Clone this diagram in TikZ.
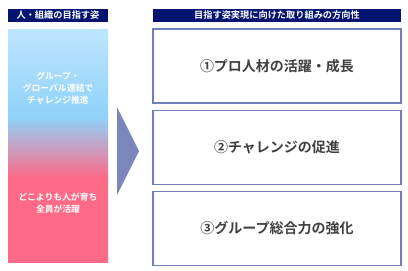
\documentclass[tikz,border=0pt]{standalone}
\usepackage{fontspec}
\newfontfamily\jpfont{Noto Sans CJK JP}[BoldFont={Noto Sans CJK JP Bold}]
\usepackage{tikz}
\usetikzlibrary{positioning}
\definecolor{headnavy}{RGB}{4, 20, 112}
\definecolor{framegray}{RGB}{112, 126, 186}
\definecolor{arrowgray}{RGB}{123, 135, 188}
\definecolor{textgray}{RGB}{64, 64, 64}
\definecolor{barpink}{RGB}{255, 106, 134}
\definecolor{barblue}{RGB}{143, 210, 250}
\definecolor{barsky}{RGB}{190, 229, 255}
\pgfdeclareverticalshading{barshade}{100bp}{color(0bp)=(barpink); color(25bp)=(barpink);
    color(43bp)=(barpink); color(56bp)=(barblue); color(75bp)=(barsky); color(100bp)=(barsky)}

\begin{document}
\begin{tikzpicture}[
    x=1pt, y=-1pt,
    font=\jpfont\bfseries,
    node distance=6pt,
    head/.style={fill=headnavy, text=white, inner sep=0pt, minimum height=13pt,
        font=\jpfont\bfseries\fontsize{9.2}{10}\selectfont},
    goal/.style={draw=framegray, line width=1.1pt, minimum width=248pt, minimum height=74pt,
        inner sep=0pt, text=textgray, font=\jpfont\bfseries\fontsize{14}{16}\selectfont},
    bartext/.style={text=white, align=center, inner sep=0pt,
        font=\jpfont\bfseries\fontsize{8.8}{12}\selectfont}
]
\useasboundingbox (0,0) rectangle (408,271);
\node[head, minimum width=100pt] (lhead) at (58,15) {人・組織の目指す姿};
\node[head, minimum width=248pt] (rhead) at (277,15.5) {目指す姿実現に向けた取り組みの方向性};
\node[shading=barshade, minimum width=100pt, minimum height=233pt, inner sep=0pt] (bar) at (58,145.5) {};
\node[bartext] (vision1) at (58,88) {グループ・\\グローバル連結で\\チャレンジ推進};
\node[bartext] (vision2) at (58,203.5) {どこよりも人が育ち\\全員が活躍};
\fill[arrowgray] (117,107) -- (139,151) -- (117,195) -- cycle;
\node[goal] (goal1) at (277,66) {①プロ人材の活躍・成長};
\node[goal, below=of goal1] (goal2) {②チャレンジの促進};
\node[goal, below=of goal2] (goal3) {③グループ総合力の強化};
\end{tikzpicture}
\end{document}
